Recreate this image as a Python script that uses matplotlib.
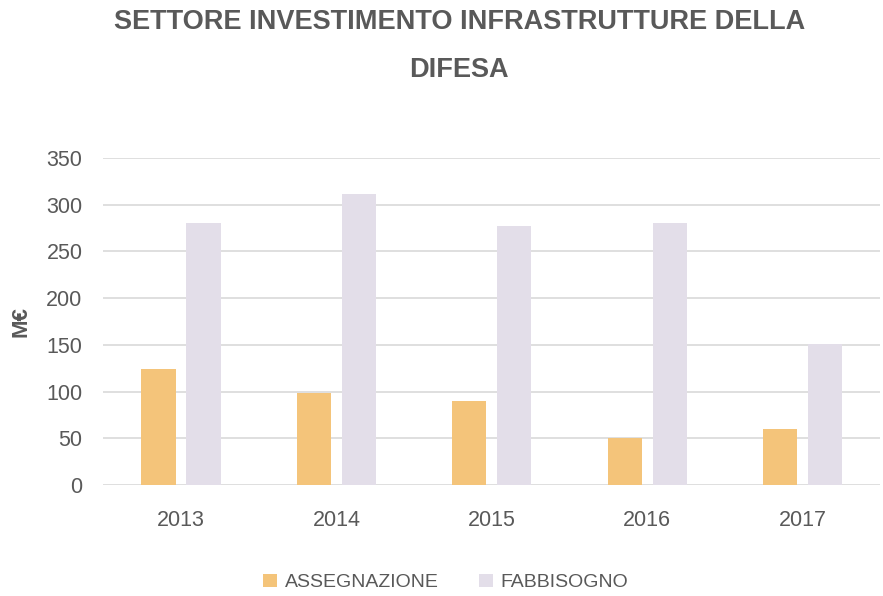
import matplotlib
matplotlib.use('Agg')
import matplotlib.pyplot as plt
import numpy as np

years = ['2013', '2014', '2015', '2016', '2017']
assegnazione = [124, 99, 90, 50, 60]
fabbisogno = [280, 311, 277, 280, 151]
yticks = [0, 50, 100, 150, 200, 250, 300, 350]

plt.rcParams['font.family'] = ['Liberation Sans', 'DejaVu Sans']

TEXT = '#595959'
ORANGE = '#F4C47A'
PURPLE = '#E3DEE9'

fig = plt.figure(figsize=(8.83, 5.96), dpi=100, facecolor='white')
ax = fig.add_axes([0.117, 0.186, 0.88, 0.549])

x = np.arange(len(years))
w = 0.22
gap = 0.035
ax.bar(x - w / 2 - gap, assegnazione, w, color=ORANGE, label='ASSEGNAZIONE', zorder=3)
ax.bar(x + w / 2 + gap, fabbisogno, w, color=PURPLE, label='FABBISOGNO', zorder=3)

ax.set_xlim(-0.5, len(years) - 0.5)
ax.set_ylim(0, 350)
ax.set_yticks(yticks)
ax.set_xticks(x)
ax.set_xticklabels(years)
ax.tick_params(axis='both', length=0, labelsize=15.5, colors=TEXT)
ax.tick_params(axis='x', pad=18)
ax.tick_params(axis='y', pad=15)
ax.grid(axis='y', color='#D9D9D9', linewidth=1.2, zorder=0)
for s in ax.spines.values():
    s.set_visible(False)

ax.set_ylabel('M€', fontsize=16, color=TEXT, fontweight='bold')
ax.yaxis.set_label_coords(-0.093, 0.5)

fig.text(0.52, 0.985, 'SETTORE INVESTIMENTO INFRASTRUTTURE DELLA\nDIFESA',
         ha='center', va='top', fontsize=19.5, fontweight='bold', color=TEXT,
         linespacing=2.1)

ax.legend(loc='center', bbox_to_anchor=(0.441, -0.297), ncol=2, frameon=False,
          fontsize=14, labelcolor=TEXT, handlelength=0.7, handleheight=0.7,
          handletextpad=0.4, columnspacing=2.1)

fig.savefig('out.png', dpi=100, facecolor='white')
